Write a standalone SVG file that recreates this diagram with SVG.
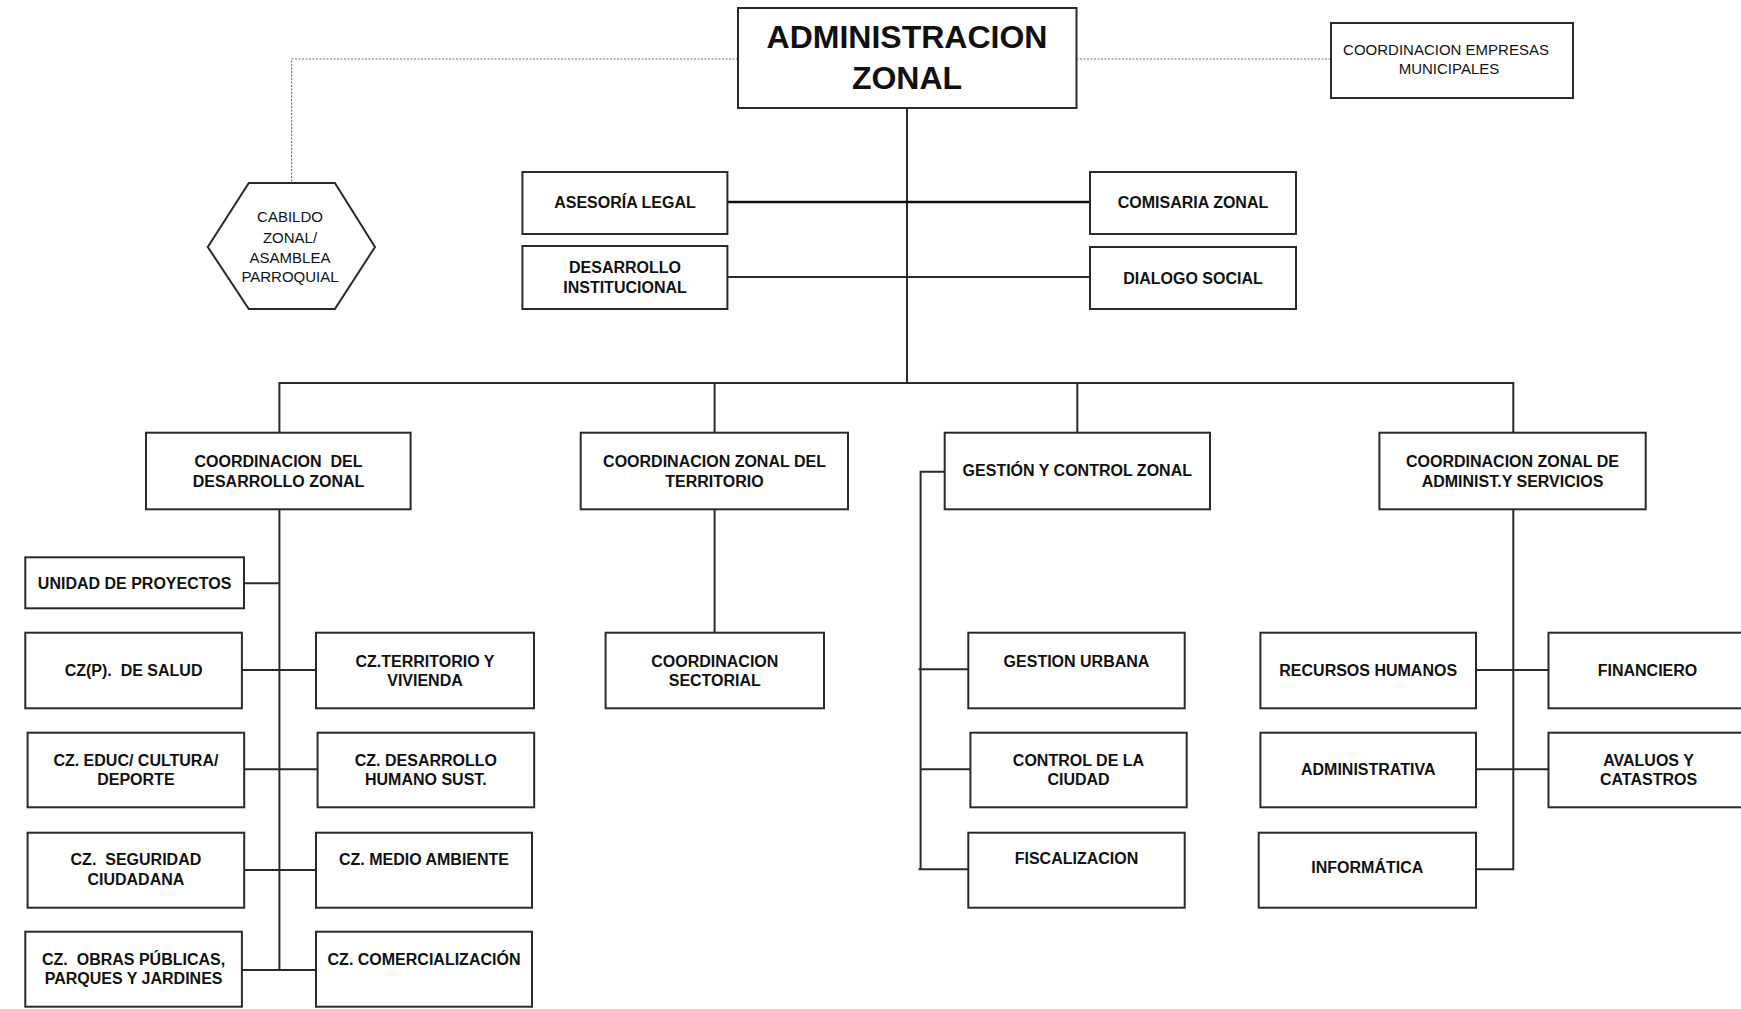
<svg xmlns="http://www.w3.org/2000/svg" width="1741" height="1009" viewBox="0 0 1741 1009">
<style>
.b{fill:#fff;stroke:#2a2a2a;stroke-width:2}
.t{font-family:"Liberation Sans",Arial,sans-serif;font-weight:bold;font-size:16px;fill:#111;text-anchor:middle;white-space:pre}
.n{font-family:"Liberation Sans",Arial,sans-serif;font-size:15px;fill:#111;text-anchor:middle}
.big{font-family:"Liberation Sans",Arial,sans-serif;font-weight:bold;font-size:32px;fill:#111;text-anchor:middle}
.c{fill:none;stroke:#2a2a2a;stroke-width:2}
.d{fill:none;stroke:#777;stroke-width:1.2;stroke-dasharray:2 1.5}
</style>
<rect width="1741" height="1009" fill="#fff"/>
<g id="connectors">
<path class="d" d="M738 59H291.6V183"/>
<path class="d" d="M1076.5 59H1331"/>
<path class="c" d="M907 108V383"/>
<path class="c" style="stroke:#111;stroke-width:2.5" d="M727.4 202H1090"/>
<path class="c" d="M727.4 277H1090"/>
<path class="c" d="M279.4 432.7V383H1513.3V432.7"/>
<path class="c" d="M714.6 383V432.7"/>
<path class="c" d="M1077.3 383V432.7"/>
<path class="c" d="M279.4 509.3V970"/>
<path class="c" d="M244 583.3H279.4"/>
<path class="c" d="M242 670H316"/>
<path class="c" d="M244.2 769.3H317.6"/>
<path class="c" d="M244.2 870H316"/>
<path class="c" d="M242 970H316"/>
<path class="c" d="M714.6 509.3V632.7"/>
<path class="c" d="M944.7 471.7H920.6V869.3"/>
<path class="c" d="M918.5 669.3H968.3"/>
<path class="c" d="M920.6 769.3H970.4"/>
<path class="c" d="M918.5 869.3H968.3"/>
<path class="c" d="M1513.3 509.3V869.3H1476"/>
<path class="c" d="M1476 670H1548.5"/>
<path class="c" d="M1476 769.3H1548.5"/>
</g>
<g id="admin"><rect class="b" x="738" y="8" width="338.5" height="100"/><text class="big" x="907" y="48">ADMINISTRACION</text><text class="big" x="907" y="89">ZONAL</text></g>
<g id="empresas"><rect class="b" x="1331" y="23" width="242" height="75"/><text class="n" x="1446" y="55">COORDINACION EMPRESAS</text><text class="n" x="1449" y="74">MUNICIPALES</text></g>
<g id="cabildo"><polygon class="b" points="248.8,183 334.9,183 375,247 334.9,309 248.8,309 207.8,247"/><text class="n" x="290" y="222">CABILDO</text><text class="n" x="290" y="242.5">ZONAL/</text><text class="n" x="290" y="262.5">ASAMBLEA</text><text class="n" x="290" y="282">PARROQUIAL</text></g>
<g id="asesoria"><rect class="b" x="522.4" y="172" width="205" height="62"/><text class="t" x="625" y="208">ASESORÍA LEGAL</text></g>
<g id="desinst"><rect class="b" x="522.4" y="246" width="205" height="63"/><text class="t" x="625" y="273">DESARROLLO</text><text class="t" x="625" y="293">INSTITUCIONAL</text></g>
<g id="comisaria"><rect class="b" x="1090" y="172" width="206" height="62"/><text class="t" x="1193" y="208">COMISARIA ZONAL</text></g>
<g id="dialogo"><rect class="b" x="1090" y="247" width="206" height="62"/><text class="t" x="1193" y="284">DIALOGO SOCIAL</text></g>
<g id="coorddes"><rect class="b" x="146" y="432.7" width="264.6" height="76.6"/><text class="t" x="278.5" y="466.5">COORDINACION  DEL</text><text class="t" x="278.5" y="486.5">DESARROLLO ZONAL</text></g>
<g id="coordter"><rect class="b" x="580.7" y="432.7" width="267.3" height="76.6"/><text class="t" x="714.5" y="466.5">COORDINACION ZONAL DEL</text><text class="t" x="714.5" y="486.5">TERRITORIO</text></g>
<g id="gestion"><rect class="b" x="944.7" y="432.7" width="265.3" height="76.6"/><text class="t" x="1077.3" y="476">GESTIÓN Y CONTROL ZONAL</text></g>
<g id="coordadm"><rect class="b" x="1379.4" y="432.7" width="266.3" height="76.6"/><text class="t" x="1512.5" y="466.5">COORDINACION ZONAL DE</text><text class="t" x="1512.5" y="486.5">ADMINIST.Y SERVICIOS</text></g>
<g id="unidad"><rect class="b" x="25.3" y="557.3" width="218.7" height="51"/><text class="t" x="134.6" y="588.5">UNIDAD DE PROYECTOS</text></g>
<g id="salud"><rect class="b" x="25.3" y="632.7" width="216.6" height="75.6"/><text class="t" x="133.6" y="675.5">CZ(P).  DE SALUD</text></g>
<g id="territorio"><rect class="b" x="316" y="632.7" width="218" height="75.6"/><text class="t" x="425" y="666.5">CZ.TERRITORIO Y</text><text class="t" x="425" y="686">VIVIENDA</text></g>
<g id="educ"><rect class="b" x="27.6" y="732.7" width="216.6" height="74.6"/><text class="t" x="135.9" y="766">CZ. EDUC/ CULTURA/</text><text class="t" x="135.9" y="785">DEPORTE</text></g>
<g id="dhs"><rect class="b" x="317.6" y="732.7" width="216.6" height="74.6"/><text class="t" x="425.9" y="766">CZ. DESARROLLO</text><text class="t" x="425.9" y="785">HUMANO SUST.</text></g>
<g id="seguridad"><rect class="b" x="27.6" y="832.7" width="216.6" height="75"/><text class="t" x="135.9" y="865">CZ.  SEGURIDAD</text><text class="t" x="135.9" y="885">CIUDADANA</text></g>
<g id="medio"><rect class="b" x="316" y="832.7" width="216" height="75"/><text class="t" x="424" y="865">CZ. MEDIO AMBIENTE</text></g>
<g id="obras"><rect class="b" x="25.3" y="931.7" width="216.6" height="75"/><text class="t" x="133.6" y="965">CZ.  OBRAS PÚBLICAS,</text><text class="t" x="133.6" y="984">PARQUES Y JARDINES</text></g>
<g id="comerc"><rect class="b" x="316" y="931.7" width="216" height="75"/><text class="t" x="424" y="965">CZ. COMERCIALIZACIÓN</text></g>
<g id="sectorial"><rect class="b" x="605.6" y="632.7" width="218.4" height="75.6"/><text class="t" x="714.8" y="666.5">COORDINACION</text><text class="t" x="714.8" y="686">SECTORIAL</text></g>
<g id="urbana"><rect class="b" x="968.3" y="632.7" width="216.4" height="75.6"/><text class="t" x="1076.5" y="666.5">GESTION URBANA</text></g>
<g id="control"><rect class="b" x="970.4" y="732.7" width="216.3" height="74.6"/><text class="t" x="1078.5" y="766">CONTROL DE LA</text><text class="t" x="1078.5" y="785">CIUDAD</text></g>
<g id="fiscal"><rect class="b" x="968.3" y="832.7" width="216.4" height="75"/><text class="t" x="1076.5" y="864">FISCALIZACION</text></g>
<g id="rrhh"><rect class="b" x="1260.4" y="632.7" width="215.6" height="75.6"/><text class="t" x="1368.2" y="675.5">RECURSOS HUMANOS</text></g>
<g id="financiero"><rect class="b" x="1548.5" y="632.7" width="198" height="75.6"/><text class="t" x="1647.5" y="675.5">FINANCIERO</text></g>
<g id="administrativa"><rect class="b" x="1260.4" y="732.7" width="215.6" height="74.6"/><text class="t" x="1368.2" y="775">ADMINISTRATIVA</text></g>
<g id="avaluos"><rect class="b" x="1548.5" y="732.7" width="198" height="74.6"/><text class="t" x="1648.5" y="766">AVALUOS Y</text><text class="t" x="1648.5" y="785">CATASTROS</text></g>
<g id="informatica"><rect class="b" x="1258.7" y="832.7" width="217.3" height="75"/><text class="t" x="1367.3" y="873">INFORMÁTICA</text></g>
</svg>
